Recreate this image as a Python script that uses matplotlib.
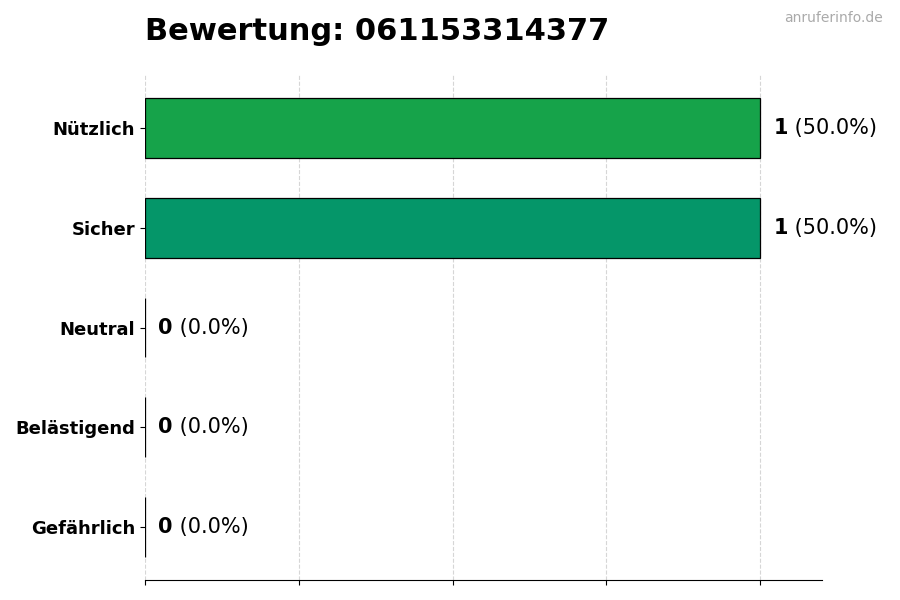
import matplotlib
matplotlib.use("Agg")
import matplotlib.pyplot as plt

# Daten
kategorien = ['Gefährlich', 'Belästigend', 'Neutral', 'Sicher', 'Nützlich']
anzahl = [0, 0, 0, 1, 1]
farben = ['#dc2626', '#f97316', '#6b7280', '#059669', '#16a34a']
nummer = '061153314377'

gesamt = sum(anzahl)
prozent = [100.0 * a / gesamt if gesamt else 0.0 for a in anzahl]

fig = plt.figure(figsize=(9, 6), dpi=100)
ax = fig.add_axes([0.161, 0.0333, 0.752, 0.8417])

ax.barh(kategorien, anzahl, height=0.6, color=farben, edgecolor='black', linewidth=0.9)

ax.set_xlim(0, 1.1)
ax.set_xticks([0, 0.25, 0.5, 0.75, 1.0])
ax.set_xticklabels([])
ax.grid(axis='x', linestyle='--', color='#cccccc', linewidth=0.8, alpha=0.8)
ax.set_axisbelow(True)

for s in ['top', 'right', 'left']:
    ax.spines[s].set_visible(False)

for lbl in ax.get_yticklabels():
    lbl.set_fontweight('bold')
    lbl.set_fontsize(13)

# Beschriftungen an den Balken
for i, (a, p) in enumerate(zip(anzahl, prozent)):
    t = ax.annotate(str(a), xy=(a, i), xytext=(9.5, 0), textcoords='offset points',
                    va='center', ha='left', fontsize=15, fontweight='bold')
    ax.annotate(f' ({p:.1f}%)', xy=(1, 0.5), xycoords=t, va='center', ha='left', fontsize=15)

ax.set_title(f'Bewertung: {nummer}', loc='left', fontsize=22, fontweight='bold', pad=25)

fig.text(0.981, 0.97, 'anruferinfo.de', ha='right', va='center', fontsize=10, color='#aaaaaa')

fig.savefig('out.png', dpi=100)
